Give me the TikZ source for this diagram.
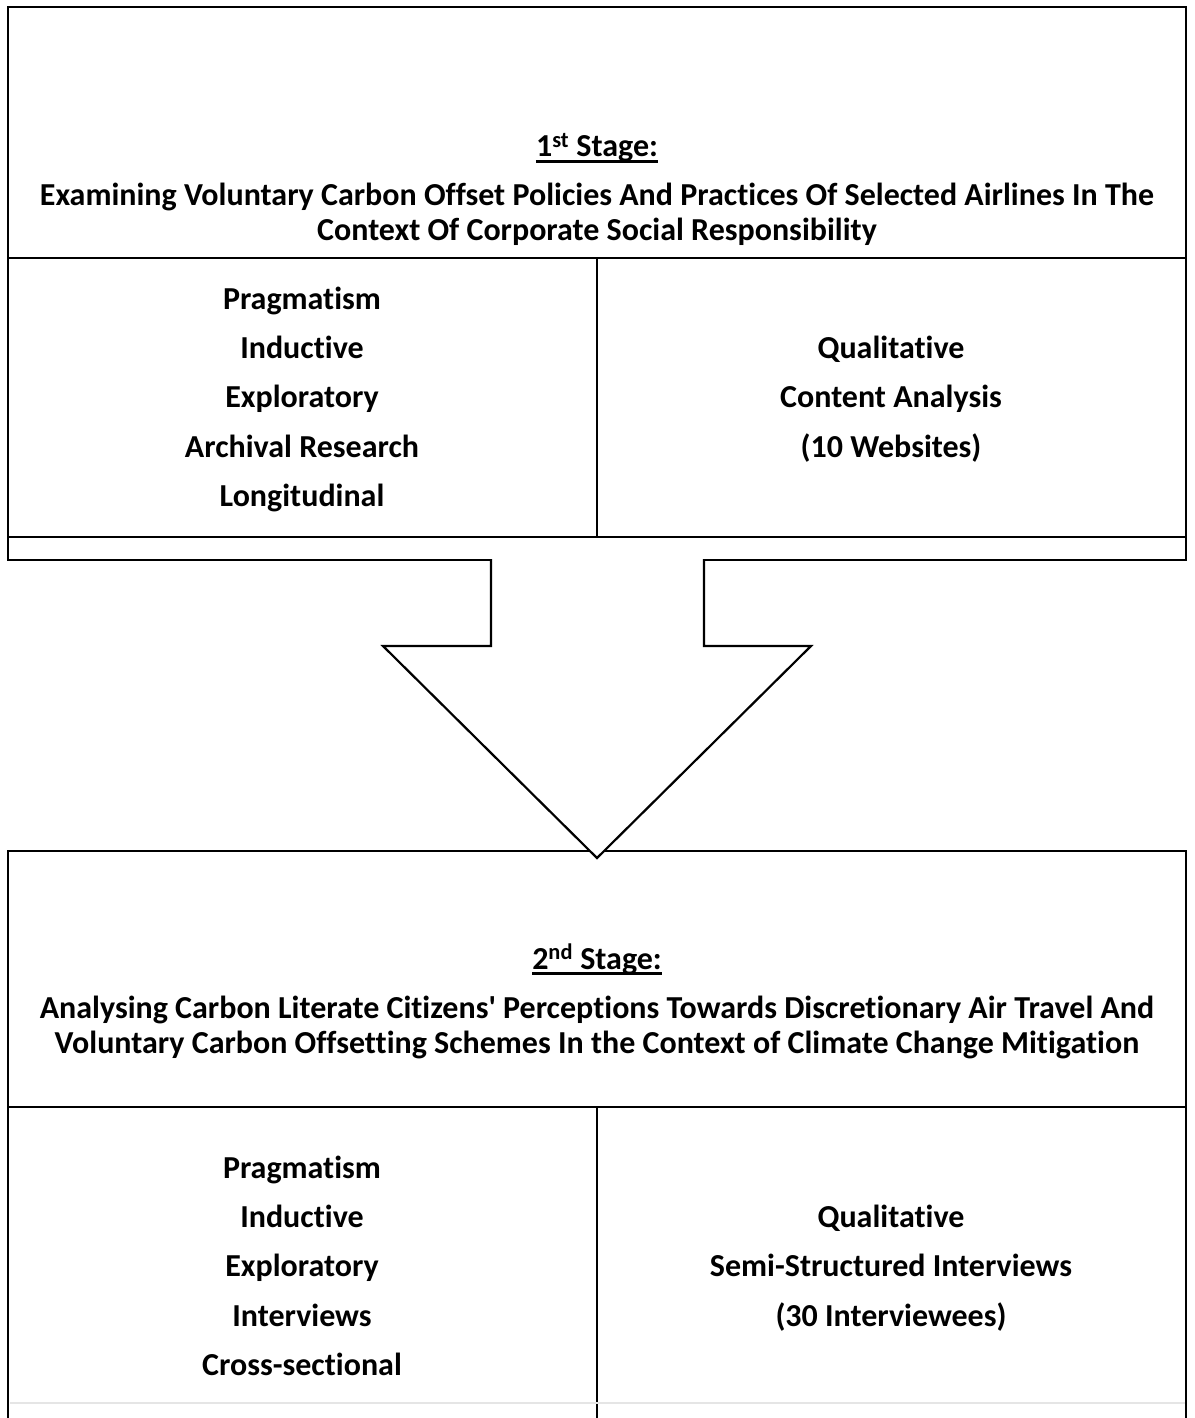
\documentclass[tikz,border=0pt]{standalone}
\usepackage{fontspec}
\setmainfont{Carlito}[Ligatures={NoCommon}]
\begin{document}
\begin{tikzpicture}[x=1pt,y=-1pt,
  frame/.style={line width=2.6pt, line cap=rect, line join=miter},
  arrowshape/.style={line width=2.2pt, fill=white, line join=miter},
  uline/.style={line width=2.6pt},
  lbl/.style={font=\fontsize{32}{38}\selectfont\bfseries, anchor=base, inner sep=0pt}]
\useasboundingbox (0,0) rectangle (1194,1418);

% ---- first stage box ----
\draw[frame] (8,560) -- (8,7) -- (1186,7) -- (1186,560);
\draw[frame] (8,560) -- (491,560);
\draw[frame] (704,560) -- (1186,560);
\draw[frame] (8,258) -- (1186,258);
\draw[frame] (8,537) -- (1186,537);
\draw[frame] (597,258) -- (597,537);

% ---- second stage box ----
\draw[frame] (8,1418) -- (8,851) -- (1186,851) -- (1186,1418);
\draw[frame] (8,1107) -- (1186,1107);
\draw[frame] (597,1107) -- (597,1418);
\draw[line width=2pt, black!10] (9.5,1403) -- (1184.5,1403);

% ---- block arrow between the stages ----
\draw[arrowshape] (491,559) -- (491,646) -- (383,646) -- (597,858)
  -- (811,646) -- (704,646) -- (704,559);

% ---- first stage texts ----
\node[lbl] (s1) at (597,157) {1\textsuperscript{st} Stage:};
\draw[uline] ([yshift=-4.5pt]s1.base west) -- ([yshift=-4.5pt]s1.base east);
\node[lbl] (s1t1) at (597,205) {Examining Voluntary Carbon Offset Policies And Practices Of Selected Airlines In The};
\node[lbl] (s1t2) at (597,240) {Context Of Corporate Social Responsibility};
\foreach \t [count=\i] in {{Pragmatism},{Inductive},{Exploratory},{Archival Research},{Longitudinal}}
  \node[lbl] (s1l\i) at (302,260.2+49.25*\i) {\t};
\foreach \t [count=\i] in {{Qualitative},{Content Analysis},{(10 Websites)}}
  \node[lbl] (s1r\i) at (891,309.4+49.25*\i) {\t};

% ---- second stage texts ----
\node[lbl] (s2) at (597,969) {2\textsuperscript{nd} Stage:};
\draw[uline] ([yshift=-4.5pt]s2.base west) -- ([yshift=-4.5pt]s2.base east);
\node[lbl] (s2t1) at (597,1018) {Analysing Carbon Literate Citizens\textquotesingle{} Perceptions Towards Discretionary Air Travel And};
\node[lbl] (s2t2) at (597,1053) {Voluntary Carbon Offsetting Schemes In the Context of Climate Change Mitigation};
\foreach \t [count=\i] in {{Pragmatism},{Inductive},{Exploratory},{Interviews},{Cross-sectional}}
  \node[lbl] (s2l\i) at (302,1129+49.25*\i) {\t};
\foreach \t [count=\i] in {{Qualitative},{Semi-Structured Interviews},{(30 Interviewees)}}
  \node[lbl] (s2r\i) at (891,1178.3+49.25*\i) {\t};
\end{tikzpicture}
\end{document}
